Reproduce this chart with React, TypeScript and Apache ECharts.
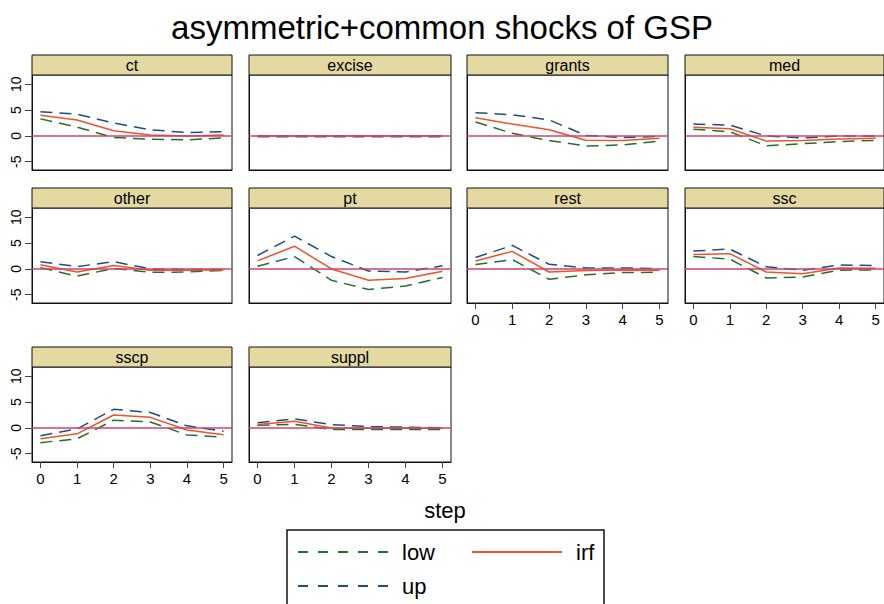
import React, { useEffect, useRef } from "react";
import * as echarts from "echarts";

const chartTitle = "asymmetric+common shocks of GSP";
const xTitle = "step";
const panelNames = ["ct", "excise", "grants", "med", "other", "pt", "rest", "ssc", "sscp", "suppl"];
const steps = [0, 1, 2, 3, 4, 5];
const yTicks = [-5, 0, 5, 10];

const lowValues = [
  [3.3, 1.7, -0.3, -0.65, -0.75, -0.4],
  [-0.15, -0.15, -0.15, -0.15, -0.15, -0.15],
  [2.7, 0.5, -0.9, -1.95, -1.75, -1.0],
  [1.3, 0.8, -1.9, -1.5, -1.1, -0.85],
  [0.25, -1.4, 0.1, -0.65, -0.6, -0.3],
  [0.5, 2.4, -2.2, -4.0, -3.3, -1.65],
  [0.85, 1.8, -2.0, -1.15, -0.7, -0.65],
  [2.4, 1.9, -1.75, -1.55, -0.25, -0.2],
  [-2.85, -2.1, 1.5, 1.15, -1.35, -1.8],
  [0.5, 0.7, -0.3, -0.3, -0.3, -0.3],
];
const irfValues = [
  [4.0, 3.1, 1.0, 0.2, 0.0, 0.2],
  [0.0, 0.0, 0.0, 0.0, 0.0, 0.0],
  [3.5, 2.3, 1.2, -0.85, -0.9, -0.45],
  [1.7, 1.4, -1.0, -0.9, -0.6, -0.45],
  [0.8, -0.6, 0.65, -0.25, -0.25, -0.2],
  [1.55, 4.4, 0.0, -2.2, -1.85, -0.45],
  [1.55, 3.4, -0.6, -0.3, -0.2, -0.25],
  [2.8, 2.95, -0.6, -0.95, 0.2, 0.15],
  [-2.1, -1.15, 2.5, 2.05, -0.4, -1.3],
  [0.65, 1.3, 0.0, -0.05, -0.05, -0.05],
];
const upValues = [
  [4.7, 4.2, 2.5, 1.2, 0.65, 0.8],
  [0.05, 0.05, 0.05, 0.05, 0.05, 0.05],
  [4.5, 4.1, 3.1, 0.1, -0.3, -0.1],
  [2.3, 2.1, 0.0, -0.4, 0.0, 0.0],
  [1.4, 0.45, 1.4, 0.0, -0.1, -0.1],
  [2.6, 6.35, 2.4, -0.4, -0.6, 0.6],
  [2.2, 4.55, 0.9, 0.2, 0.2, 0.05],
  [3.45, 3.85, 0.4, -0.25, 0.75, 0.65],
  [-1.5, -0.2, 3.6, 3.0, 0.4, -0.65],
  [1.0, 1.75, 0.65, 0.25, 0.15, 0.0],
];

const FONT = "'Liberation Sans', Arial, Helvetica, sans-serif";
const GREEN = "#23702c";
const BLUE = "#1c4d86";
const RED = "#f0522a";
const ZERO = "#d1426b";
const TAN = "#e3d9a1";

const COL_LEFT = [32, 249, 467, 685];
const COL_W = [200, 202, 201, 199];
const ROW_TOP = [75, 208, 367];
const PLOT_H = 95;
const HEAD_H = 20;
const X_LABELLED = [6, 7, 8, 9];

export default function App() {
  const ref = useRef<HTMLDivElement>(null);
  useEffect(() => {
    if (!ref.current) return;
    const chart = echarts.init(ref.current, null, { renderer: "svg" });
    const grids: any[] = [];
    const xAxes: any[] = [];
    const yAxes: any[] = [];
    const series: any[] = [];
    const graphics: any[] = [];
    panelNames.forEach((name, i) => {
      const col = i % 4;
      const row = Math.floor(i / 4);
      const left = COL_LEFT[col];
      const top = ROW_TOP[row];
      const w = COL_W[col];
      grids.push({
        left,
        top,
        width: w,
        height: PLOT_H,
        show: true,
        borderColor: "#111",
        borderWidth: 1,
        backgroundColor: "#fff",
      });
      const xl = X_LABELLED.includes(i);
      xAxes.push({
        type: "value",
        gridIndex: i,
        min: -0.23,
        max: 5.23,
        splitLine: { show: false },
        axisLine: { show: true, onZero: false, lineStyle: { color: "#111", width: 1 } },
        axisTick: { show: xl, customValues: steps, length: 6, lineStyle: { color: "#444" } },
        axisLabel: { show: xl, customValues: steps, fontSize: 15, color: "#000", fontFamily: FONT, margin: 9 },
      });
      const yl = col === 0;
      yAxes.push({
        type: "value",
        gridIndex: i,
        min: -6.6,
        max: 11.8,
        splitLine: { show: false },
        axisLine: { show: true, onZero: false, lineStyle: { color: "#111", width: 1 } },
        axisTick: { show: yl, customValues: yTicks, length: 7, lineStyle: { color: "#444" } },
        axisLabel: {
          show: yl,
          customValues: yTicks,
          rotate: 90,
          fontSize: 14,
          color: "#000",
          fontFamily: FONT,
          margin: 9,
        },
      });
      const mk = (vals: number[]) => steps.map((s, k) => [s, vals[k]]);
      series.push({
        name: "low",
        type: "line",
        xAxisIndex: i,
        yAxisIndex: i,
        symbol: "none",
        color: GREEN,
        lineStyle: { color: GREEN, width: 1.5, type: [12, 7] },
        data: mk(lowValues[i]),
      });
      series.push({
        name: "up",
        type: "line",
        xAxisIndex: i,
        yAxisIndex: i,
        symbol: "none",
        color: BLUE,
        lineStyle: { color: BLUE, width: 1.5, type: [12, 7] },
        data: mk(upValues[i]),
      });
      series.push({
        name: "irf",
        type: "line",
        xAxisIndex: i,
        yAxisIndex: i,
        symbol: "none",
        color: RED,
        lineStyle: { color: RED, width: 1.5, type: "solid" },
        data: mk(irfValues[i]),
        markLine: {
          silent: true,
          symbol: ["none", "none"],
          label: { show: false },
          lineStyle: { color: ZERO, type: "solid", width: 1.5 },
          data: [{ yAxis: 0 }],
        },
      });
      graphics.push({
        type: "rect",
        shape: { x: left, y: top - HEAD_H, width: w, height: HEAD_H },
        style: { fill: TAN, stroke: "#111", lineWidth: 1 },
        z: 10,
      });
      graphics.push({
        type: "text",
        x: left + w / 2,
        y: top - HEAD_H / 2,
        style: {
          text: name,
          fill: "#000",
          font: `16px ${FONT}`,
          textAlign: "center",
          textVerticalAlign: "middle",
        },
        z: 11,
      });
    });
    graphics.push({
      type: "text",
      x: 445,
      y: 510,
      style: {
        text: xTitle,
        fill: "#000",
        font: `22px ${FONT}`,
        textAlign: "center",
        textVerticalAlign: "middle",
      },
    });
    graphics.push({
      type: "rect",
      shape: { x: 287, y: 530, width: 317, height: 120 },
      style: { fill: "rgba(0,0,0,0)", stroke: "#111", lineWidth: 1.5 },
    });
    const legendBase = {
      orient: "horizontal",
      padding: 0,
      itemWidth: 90,
      itemHeight: 20,
      selectedMode: false,
      itemStyle: { color: "rgba(0,0,0,0)", borderWidth: 0 },
      textStyle: { fontSize: 22, color: "#000", fontFamily: FONT, padding: [0, 0, 0, 9] },
    };
    const option: any = {
      animation: false,
      backgroundColor: "#fff",
      title: {
        text: chartTitle,
        left: "center",
        top: 6,
        textStyle: { fontSize: 33, fontWeight: "normal", color: "#000", fontFamily: FONT },
      },
      legend: [
        { ...legendBase, data: ["low"], left: 297, top: 541, lineStyle: { type: [10, 10] } },
        { ...legendBase, data: ["irf"], left: 471, top: 541 },
        { ...legendBase, data: ["up"], left: 297, top: 575, lineStyle: { type: [10, 10] } },
      ],
      grid: grids,
      xAxis: xAxes,
      yAxis: yAxes,
      series,
      graphic: graphics,
    };
    chart.setOption(option);
    return () => chart.dispose();
  }, []);
  return (
    <div
      ref={ref}
      style={{ position: "absolute", left: 0, top: 0, width: 884, height: 604 }}
    />
  );
}
